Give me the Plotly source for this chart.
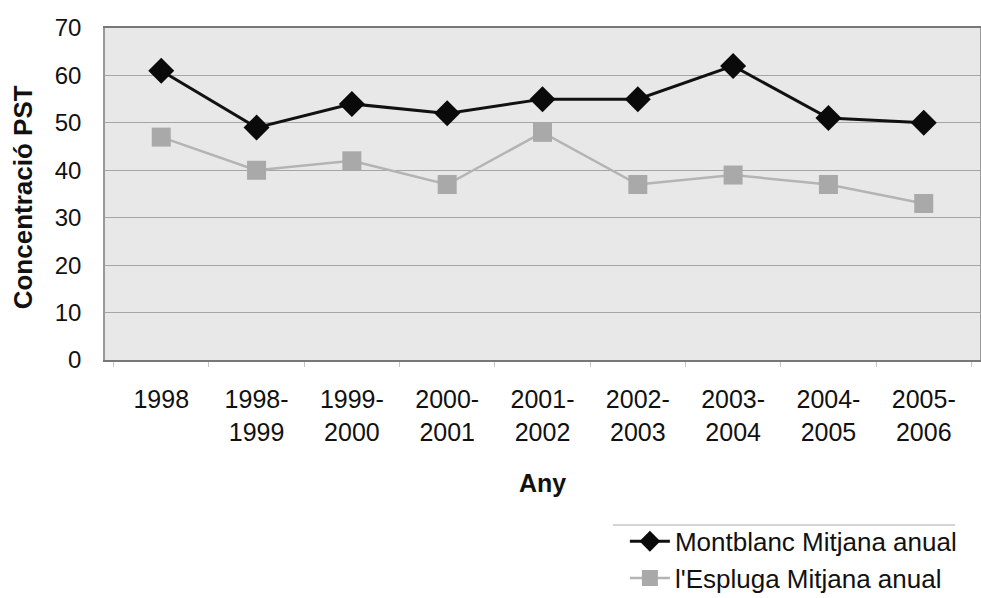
import plotly.graph_objects as go

categories = ["1998", "1998-<br>1999", "1999-<br>2000", "2000-<br>2001", "2001-<br>2002",
              "2002-<br>2003", "2003-<br>2004", "2004-<br>2005", "2005-<br>2006"]
montblanc = [61, 49, 54, 52, 55, 55, 62, 51, 50]
espluga = [47, 40, 42, 37, 48, 37, 39, 37, 33]
y_ticks = [0, 10, 20, 30, 40, 50, 60, 70]

FONT = "Liberation Sans, Arial, sans-serif"

fig = go.Figure()
fig.add_trace(go.Scatter(
    x=categories, y=montblanc, mode="lines+markers",
    name="Montblanc Mitjana anual",
    line=dict(color="#111111", width=3),
    marker=dict(symbol="diamond", size=20, color="#0a0a0a"),
))
fig.add_trace(go.Scatter(
    x=categories, y=espluga, mode="lines+markers",
    name="l'Espluga Mitjana anual",
    line=dict(color="#b4b4b4", width=2.5),
    marker=dict(symbol="square", size=19, color="#a9a9a9"),
))

fig.update_layout(
    width=981, height=598,
    margin=dict(l=105, r=1, t=28, b=238, autoexpand=False),
    paper_bgcolor="white",
    plot_bgcolor="#e8e8e8",
    font=dict(family=FONT, size=24, color="#111111"),
    showlegend=True,
    legend=dict(
        xref="container", yref="container",
        x=0.637, y=0.134, xanchor="left", yanchor="top",
        font=dict(size=26, color="#111111"),
        bgcolor="rgba(0,0,0,0)",
        tracegroupgap=0, itemwidth=40,
    ),
    xaxis=dict(
        type="category",
        showgrid=False,
        showline=True, linecolor="#777777", linewidth=2,
        mirror=True,
        ticks="outside", tickson="boundaries", ticklen=5, tickcolor="#c4c4c4",
        tickangle=0, ticklabelstandoff=16,
        tickfont=dict(size=25, family=FONT, color="#111111"),
        title=dict(text="<b>Any</b>", font=dict(size=25, family=FONT), standoff=30),
    ),
    yaxis=dict(
        range=[0, 70], tickvals=y_ticks,
        showgrid=True, gridcolor="#a5a5a5", gridwidth=1,
        showline=True, linecolor="#999999", linewidth=1.5, mirror=True,
        zeroline=False,
        ticks="", ticklabelstandoff=17,
        tickfont=dict(size=24, family=FONT, color="#111111"),
    ),
    annotations=[dict(text="<b>Concentració PST</b>", textangle=-90,
                      xref="paper", yref="paper",
                      x=-(105 - 23) / 875, y=0.49, xanchor="center", yanchor="middle",
                      showarrow=False, font=dict(size=26, family=FONT, color="#111111"))],
    shapes=[dict(type="line", xref="paper", yref="paper",
                 x0=(613 - 105) / 875, x1=(955 - 105) / 875,
                 y0=(360 - 525) / 332, y1=(360 - 525) / 332,
                 line=dict(color="#aaaaaa", width=1))],
)

fig.write_html("out.html", config={"displayModeBar": False},
               post_script="document.body.style.margin='0';document.body.style.overflow='hidden';")
